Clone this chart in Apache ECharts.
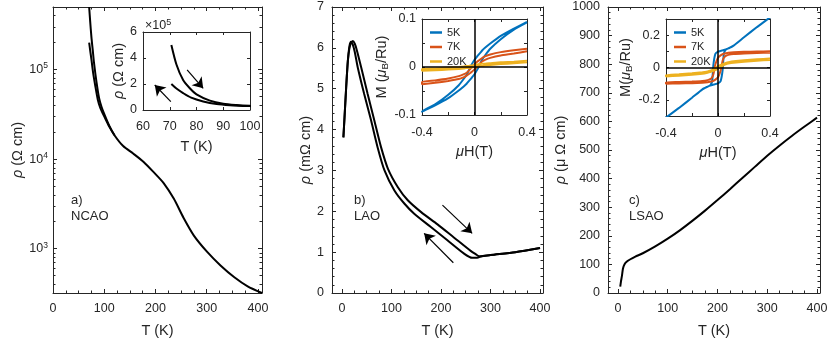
<!DOCTYPE html>
<html><head><meta charset="utf-8">
<script src="https://cdn.jsdelivr.net/npm/echarts@6/dist/echarts.min.js"></script>
<style>html,body{margin:0;padding:0;background:#fff}#c{width:830px;height:343px}</style>
</head><body><div id="c"></div>
<script>
// ---------- Panel a (NCAO), rho in Ohm cm ----------
const tA_warm = [70.6, 72.5, 75, 77.5, 80, 85, 90, 95, 100, 110, 120, 137, 157, 177, 196, 216, 236, 255, 275, 301, 327, 354, 380, 408];
const rhoA_warm = [5.0e5, 3.5e5, 2.3e5, 1.67e5, 1.2e5, 7.2e4, 4.8e4, 3.8e4, 3.2e4, 2.35e4, 1.85e4, 1.4e4, 1.15e4, 9.3e3, 7.2e3, 5.4e3, 3.6e3, 2.2e3, 1.4e3, 920, 650, 480, 380, 320];
const tA_cool = [70.6, 72.5, 75, 78, 82.5, 87.5, 92.5, 100, 110, 120];
const rhoA_cool = [2.0e5, 1.65e5, 1.3e5, 9.5e4, 6.6e4, 4.6e4, 3.7e4, 3.0e4, 2.3e4, 1.85e4];
const arrowsA = [[[76.5, 3.08e5], [82.5, 1.67e5]], [[70.4, 0.64e5], [64.4, 1.92e5]]];

// ---------- Panel b (LAO), rho in mOhm cm ----------
const tB_cool = [3, 5.3, 8.6, 12, 15.3, 18.5, 22, 26, 32, 45, 59, 72, 86, 106, 126, 146, 179, 213, 246, 263, 273, 282, 300, 350, 400];
const rhoB_cool = [3.81, 4.3, 5.03, 5.68, 6.05, 6.15, 6.08, 5.9, 5.52, 4.87, 4.22, 3.57, 3.0, 2.51, 2.19, 1.94, 1.62, 1.29, 0.97, 0.86, 0.86, 0.9, 0.93, 1.0, 1.1];
const tB_warm = [3, 5.3, 8.6, 12, 15.3, 18.5, 22, 26, 30, 39, 52, 65.5, 79, 93, 113, 133, 160, 193, 226, 260, 270, 277, 282, 300, 350, 400];
const rhoB_warm = [3.81, 4.3, 5.03, 5.68, 6.0, 6.12, 6.17, 6.1, 5.95, 5.52, 4.87, 4.22, 3.57, 3.04, 2.59, 2.27, 1.98, 1.68, 1.36, 1.03, 0.95, 0.9, 0.9, 0.93, 1.0, 1.1];
const arrowsB = [[[203, 2.15], [263, 1.46]], [[225, 0.74], [166, 1.46]]];

// ---------- Panel c (LSAO), rho in micro-Ohm cm ----------
const tC = [4.6, 6, 8, 10, 13, 18, 25, 35, 50, 75, 100, 125, 150, 175, 200, 225, 250, 275, 300, 325, 350, 375, 400];
const rhoC = [22, 40, 60, 85, 100, 110, 118, 127, 139, 163, 190, 220, 253, 288, 325, 363, 402, 441, 480, 516, 550, 582, 613];

// ---------- Hysteresis loops (insets b, c) ----------
const field = [-0.4, -0.3, -0.2, -0.12, -0.08, -0.06, -0.045, -0.035, -0.02, 0, 0.02, 0.035, 0.045, 0.06, 0.08, 0.12, 0.2, 0.3, 0.4];
// inset b (LAO)
const b5Down = [-0.093, -0.078, -0.058, -0.038, -0.024, -0.016, -0.008, -0.002, 0.006, 0.015, 0.022, 0.027, 0.03, 0.035, 0.04, 0.049, 0.065, 0.08, 0.094];
const b5Up = [-0.094, -0.08, -0.065, -0.049, -0.04, -0.035, -0.03, -0.027, -0.022, -0.015, -0.006, 0.002, 0.008, 0.016, 0.024, 0.038, 0.058, 0.078, 0.093];
const b7Down = [-0.031, -0.028, -0.024, -0.019, -0.015, -0.012, -0.008, -0.005, 0.0, 0.006, 0.011, 0.014, 0.016, 0.019, 0.022, 0.026, 0.031, 0.035, 0.038];
const b7Up = [-0.036, -0.033, -0.029, -0.025, -0.021, -0.018, -0.015, -0.013, -0.01, -0.005, 0.0, 0.005, 0.008, 0.012, 0.015, 0.019, 0.024, 0.028, 0.033];
const b20Down = [-0.004, -0.003, -0.001, 0.0, 0.001, 0.002, 0.002, 0.003, 0.003, 0.004, 0.005, 0.006, 0.006, 0.007, 0.007, 0.008, 0.01, 0.011, 0.013];
const b20Up = [-0.008, -0.007, -0.005, -0.004, -0.003, -0.002, -0.002, -0.001, -0.001, 0.0, 0.001, 0.001, 0.002, 0.002, 0.003, 0.004, 0.006, 0.008, 0.01];
// inset c (LSAO)
const c5Down = [-0.31, -0.25, -0.187, -0.135, -0.118, -0.11, -0.085, 0.02, 0.085, 0.098, 0.103, 0.106, 0.108, 0.112, 0.118, 0.135, 0.187, 0.25, 0.31];
const c5Up = [-0.31, -0.25, -0.187, -0.135, -0.118, -0.112, -0.108, -0.106, -0.103, -0.098, -0.085, -0.02, 0.085, 0.11, 0.118, 0.135, 0.187, 0.25, 0.31];
const c7Down = [-0.092, -0.09, -0.087, -0.083, -0.078, -0.072, -0.06, -0.04, 0.02, 0.06, 0.075, 0.082, 0.085, 0.088, 0.091, 0.094, 0.097, 0.099, 0.1];
const c7Up = [-0.1, -0.099, -0.097, -0.094, -0.091, -0.088, -0.085, -0.082, -0.075, -0.06, -0.02, 0.04, 0.06, 0.072, 0.078, 0.083, 0.087, 0.09, 0.092];
const c20Down = [-0.047, -0.042, -0.036, -0.029, -0.024, -0.02, -0.015, -0.01, -0.002, 0.008, 0.016, 0.021, 0.024, 0.028, 0.032, 0.038, 0.045, 0.051, 0.055];
const c20Up = [-0.055, -0.051, -0.045, -0.038, -0.032, -0.028, -0.024, -0.021, -0.016, -0.008, 0.002, 0.01, 0.015, 0.02, 0.024, 0.029, 0.036, 0.042, 0.047];

// ---------- Tick values ----------
const ticksT = [0, 100, 200, 300, 400];
const minorT = [25, 50, 75, 125, 150, 175, 225, 250, 275, 325, 350, 375];
const ticksLog = [1e3, 1e4, 1e5];
const minorLog = [400, 500, 600, 700, 800, 900, 2e3, 3e3, 4e3, 5e3, 6e3, 7e3, 8e3, 9e3, 2e4, 3e4, 4e4, 5e4, 6e4, 7e4, 8e4, 9e4, 2e5, 3e5, 4e5];
const ticksB = [0, 1, 2, 3, 4, 5, 6, 7];
const minorB = [0.2, 0.4, 0.6, 0.8, 1.2, 1.4, 1.6, 1.8, 2.2, 2.4, 2.6, 2.8, 3.2, 3.4, 3.6, 3.8, 4.2, 4.4, 4.6, 4.8, 5.2, 5.4, 5.6, 5.8, 6.2, 6.4, 6.6, 6.8];
const ticksC = [0, 100, 200, 300, 400, 500, 600, 700, 800, 900, 1000];
const minorC = [20, 40, 60, 80, 120, 140, 160, 180, 220, 240, 260, 280, 320, 340, 360, 380, 420, 440, 460, 480, 520, 540, 560, 580, 620, 640, 660, 680, 720, 740, 760, 780, 820, 840, 860, 880, 920, 940, 960, 980];
const ticksInsetT = [60, 70, 80, 90, 100];
const ticksInsetRho = [0, 2e5, 4e5, 6e5];
const ticksH = [-0.4, -0.2, 0, 0.2, 0.4];
const labelsH = [-0.4, 0, 0.4];
const ticksMb = [-0.1, -0.05, 0, 0.05, 0.1];
const labelsMb = [-0.1, 0, 0.1];
const ticksMc = [-0.2, -0.1, 0, 0.1, 0.2];
const labelsMc = [-0.2, 0, 0.2];

// ---------- Build chart ----------
const FONT = '"Liberation Sans", Arial, Helvetica, sans-serif';
const AX = '#262626';
const BLUE = '#0072BD', RED = '#D95319', YEL = '#EDB120';
const grids = [], xAxes = [], yAxes = [], series = [];

function zip(a, b) { return a.map((v, i) => [v, b[i]]); }
function loop(down, up) {
  const pts = [];
  for (let i = field.length - 1; i >= 0; i--) pts.push([field[i], down[i]]);
  for (let i = 0; i < field.length; i++) pts.push([field[i], up[i]]);
  return pts;
}
function txt(size, extra) { return Object.assign({ fontFamily: FONT, fontSize: size, color: AX }, extra || {}); }
const richBase = (size) => ({
  i: txt(size, { fontStyle: 'italic' }),
  sup: txt(size * 0.68, { padding: [0, 0, 7, 0] }),
  sub: txt(size * 0.68, { padding: [7, 0, 0, 0] }),
  n: txt(size)
});
const plain = v => String(v);

function addAxes(list, gi, dim, c) {
  const posA = dim === 'x' ? 'bottom' : 'left';
  const posB = dim === 'x' ? 'top' : 'right';
  const ls = { color: AX, width: 1 };
  const base = { gridIndex: gi, type: c.type || 'value', min: c.min, max: c.max, splitLine: { show: false }, axisPointer: { show: false }, silent: true };
  if (c.type === 'log') base.logBase = 10;
  const idx = list.length;
  const tl = c.tickLen || 4;
  list.push(Object.assign({}, base, {
    position: posA,
    axisLine: { show: true, onZero: false, lineStyle: ls },
    axisTick: { show: true, inside: true, length: tl, customValues: c.major, lineStyle: ls },
    axisLabel: { show: true, customValues: c.labels || c.major, formatter: c.fmt || plain, fontFamily: FONT, fontSize: c.labelSize || 12.5, color: AX, margin: c.margin == null ? 8 : c.margin, rich: richBase(c.labelSize || 12.5) },
    name: c.name, nameLocation: 'middle', nameGap: c.nameGap,
    nameTextStyle: txt(c.nameSize || 14.5, { rich: richBase(c.nameSize || 14.5) })
  }));
  list.push(Object.assign({}, base, {
    position: posB,
    axisLine: { show: true, onZero: false, lineStyle: ls },
    axisTick: { show: true, inside: true, length: tl, customValues: c.major, lineStyle: ls },
    axisLabel: { show: false }
  }));
  if (c.minor) {
    [posA, posB].forEach(p => list.push(Object.assign({}, base, {
      position: p,
      axisLine: { show: false, onZero: false },
      axisTick: { show: true, inside: true, length: 2.5, customValues: c.minor, lineStyle: ls },
      axisLabel: { show: false }
    })));
  }
  return idx;
}
function addGrid(l, t, w, h) {
  grids.push({ left: l, top: t, width: w, height: h, containLabel: false, outerBoundsMode: 'none', show: false });
  return grids.length - 1;
}
function curve(name, data, xi, yi, extra) {
  return Object.assign({
    type: 'line', name, data, xAxisIndex: xi, yAxisIndex: yi, showSymbol: false, symbol: 'none',
    smooth: 0.25, clip: true, silent: true,
    lineStyle: { color: '#000', width: 2 }, itemStyle: { color: '#000' }
  }, extra || {});
}
function arrowMark(arr) {
  return {
    silent: true, symbol: ['none', 'arrow'], symbolSize: 10, label: { show: false },
    lineStyle: { color: '#000', width: 1.2, type: 'solid' }, animation: false,
    data: arr.map(a => [{ coord: a[0] }, { coord: a[1] }])
  };
}
const zeroMark = {
  silent: true, symbol: ['none', 'none'], label: { show: false }, animation: false,
  lineStyle: { color: '#000', width: 1.5, type: 'solid' },
  data: [{ xAxis: 0 }, { yAxis: 0 }]
};

// Panel a
let g = addGrid(53, 7, 209, 286);
let xi = addAxes(xAxes, g, 'x', { min: 0, max: 408, major: ticksT, minor: minorT, name: 'T (K)', nameGap: 30, margin: 9 });
let yi = addAxes(yAxes, g, 'y', { type: 'log', min: 320, max: 5e5, major: ticksLog, minor: minorLog, name: '{i|ρ} (Ω cm)', nameGap: 22, margin: 5,
  fmt: v => '{n|10}{sup|' + Math.round(Math.log10(v)) + '}' });
series.push(curve('NCAO warming', zip(tA_warm, rhoA_warm), xi, yi));
series.push(curve('NCAO cooling', zip(tA_cool, rhoA_cool), xi, yi));

// Inset a
g = addGrid(143, 32, 107, 78);
xi = addAxes(xAxes, g, 'x', { min: 60, max: 100, major: ticksInsetT, name: 'T (K)', nameGap: 29, margin: 10, labelSize: 12.5, tickLen: 3 });
yi = addAxes(yAxes, g, 'y', { min: 0, max: 6e5, major: ticksInsetRho, name: '{i|ρ} (Ω cm)', nameGap: 13, margin: 6, labelSize: 12.5, tickLen: 3,
  fmt: v => String(Math.round(v / 1e5)) });
series.push(curve('NCAO warming inset', zip(tA_warm, rhoA_warm), xi, yi));
series.push(curve('NCAO cooling inset', zip(tA_cool, rhoA_cool), xi, yi, { markLine: arrowMark(arrowsA) }));

// Panel b
g = addGrid(332, 7, 211, 286);
xi = addAxes(xAxes, g, 'x', { min: -20, max: 406, major: ticksT, minor: minorT, name: 'T (K)', nameGap: 30, margin: 9 });
yi = addAxes(yAxes, g, 'y', { min: 0, max: 7, major: ticksB, minor: minorB, name: '{i|ρ} (mΩ cm)', nameGap: 17, margin: 8 });
series.push(curve('LAO cooling', zip(tB_cool, rhoB_cool), xi, yi, { markLine: arrowMark(arrowsB) }));
series.push(curve('LAO warming', zip(tB_warm, rhoB_warm), xi, yi));

// Inset b
g = addGrid(422, 19, 105, 96);
xi = addAxes(xAxes, g, 'x', { min: -0.4, max: 0.4, major: ticksH, labels: labelsH, name: '{i|μ}H(T)', nameGap: 29, margin: 11, tickLen: 3 });
yi = addAxes(yAxes, g, 'y', { min: -0.1, max: 0.1, major: ticksMb, labels: labelsMb, name: 'M ({i|μ}{sub|B}/Ru)', nameGap: 26, margin: 6, tickLen: 3 });
const loopStyle = (c) => ({ smooth: 0.15, lineStyle: { color: c, width: 2 }, itemStyle: { color: c } });
series.push(curve('5K', loop(b5Down, b5Up), xi, yi, loopStyle(BLUE)));
series.push(curve('7K', loop(b7Down, b7Up), xi, yi, loopStyle(RED)));
series.push(curve('20K', loop(b20Down, b20Up), xi, yi, Object.assign(loopStyle(YEL), { markLine: zeroMark })));

// Panel c
g = addGrid(608, 7, 212, 286);
xi = addAxes(xAxes, g, 'x', { min: -20, max: 406, major: ticksT, minor: minorT, name: 'T (K)', nameGap: 30, margin: 9 });
yi = addAxes(yAxes, g, 'y', { min: 0, max: 1000, major: ticksC, minor: minorC, name: '{i|ρ} ({n|μ} Ω cm)', nameGap: 38, margin: 8 });
series.push(curve('LSAO', zip(tC, rhoC), xi, yi));

// Inset c
g = addGrid(666, 19, 104, 97);
xi = addAxes(xAxes, g, 'x', { min: -0.4, max: 0.4, major: ticksH, labels: labelsH, name: '{i|μ}H(T)', nameGap: 29, margin: 11, tickLen: 3 });
yi = addAxes(yAxes, g, 'y', { min: -0.3, max: 0.3, major: ticksMc, labels: labelsMc, name: 'M({i|μ}{sub|B}/Ru)', nameGap: 31, margin: 6, tickLen: 3 });
series.push(curve('5K', loop(c5Down, c5Up), xi, yi, loopStyle(BLUE)));
series.push(curve('7K', loop(c7Down, c7Up), xi, yi, loopStyle(RED)));
series.push(curve('20K', loop(c20Down, c20Up), xi, yi, Object.assign(loopStyle(YEL), { markLine: zeroMark })));

const legendCommon = {
  orient: 'vertical', icon: 'rect', itemWidth: 12, itemHeight: 2.5, itemGap: 1.5, padding: 0,
  data: ['5K', '7K', '20K'], selectedMode: false,
  textStyle: { fontFamily: FONT, fontSize: 11, color: AX, lineHeight: 13 }
};
const annot = (x, y, s) => ({ type: 'text', left: x, top: y, silent: true,
  style: { text: s, fontFamily: FONT, fontSize: 13, fill: AX, lineHeight: 16 } });

const chart = echarts.init(document.getElementById('c'), null, { renderer: 'canvas' });
chart.setOption({
  animation: false,
  backgroundColor: '#fff',
  grid: grids, xAxis: xAxes, yAxis: yAxes, series,
  legend: [
    Object.assign({}, legendCommon, { left: 430, top: 26 }),
    Object.assign({}, legendCommon, { left: 674, top: 26 })
  ],
  graphic: [
    annot(71, 192, 'a)\nNCAO'),
    annot(354, 192, 'b)\nLAO'),
    annot(629, 192, 'c)\nLSAO'),
    { type: 'text', left: 145, top: 18, silent: true,
      style: { text: '×10{s|5}', fontFamily: FONT, fontSize: 12.5, fill: AX,
        rich: { s: { fontFamily: FONT, fontSize: 9, fill: AX, padding: [0, 0, 7, 0] } } } }
  ]
});
</script>
</body></html>
